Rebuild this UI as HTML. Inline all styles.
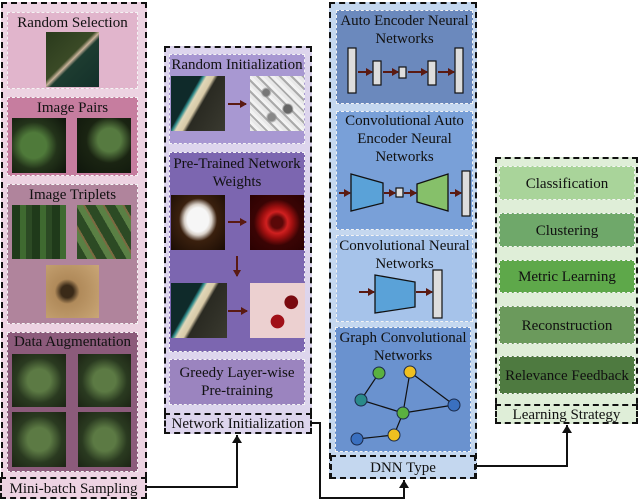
<!DOCTYPE html>
<html><head><meta charset="utf-8"><style>
body{margin:0;width:640px;height:501px;background:#fff;position:relative;overflow:hidden;font-family:"Liberation Serif",serif;}
.a{position:absolute;box-sizing:border-box;}
.o{border:2px dashed #111;}
.p{border:1px dashed #f4f4f4;}
.t{position:absolute;left:-6px;right:-6px;text-align:center;font-size:15px;line-height:18px;color:#111;white-space:nowrap;}
.sat1{background:linear-gradient(135deg,#2a3a1c 0%,#3a4a26 45%,#c9b29a 50%,#1d3c30 55%,#14302a 100%);}
.green{background:radial-gradient(circle at 40% 50%,#4f7a3a 0 30%,#23331a 55%,#0e140b 100%);}
.green2{background:radial-gradient(circle at 60% 40%,#567a40 0 25%,#1a2412 50%,#0f160c 100%);}
.field{background:repeating-linear-gradient(90deg,#1f3a1a 0 8px,#3f6a30 8px 14px,#2c4a24 14px 20px);}
.field2{background:repeating-linear-gradient(60deg,#2c4a24 0 9px,#5a8044 9px 15px,#7a6a40 15px 17px);}
.desert{background:radial-gradient(circle at 40% 50%,#3a2a18 0 15%,#b08a5a 30%,#c9a676 100%);}
.aug{background:radial-gradient(ellipse at 50% 50%,#5c7a44 0 30%,#2a3a20 60%,#1c2414 100%);}
.beach{background:linear-gradient(120deg,#0f2a2a 0 35%,#2c8a8a 38%,#e0d6b8 42%,#d8caa8 50%,#2a2a22 55%,#3a3a30 100%);}
.noise{background:radial-gradient(circle at 30% 30%,#777 0 6%,transparent 10%),radial-gradient(circle at 70% 60%,#666 0 8%,transparent 12%),radial-gradient(circle at 40% 75%,#888 0 7%,transparent 11%),repeating-linear-gradient(45deg,#e8e8e8 0 3px,#aaa 3px 5px,#f2f2f2 5px 8px);}
.dog{background:radial-gradient(ellipse at 50% 45%,#f6f6f6 0 28%,#d8d0c8 36%,#3a200e 50%,#1a0c04 100%);}
.redi{background:radial-gradient(circle at 50% 50%,#5a0808 0 15%,#d02020 28%,#a01010 40%,#3a0404 60%,#2a0202 100%);}
.redw{background:radial-gradient(circle at 75% 35%,#7a0a10 0 12%,transparent 13%),radial-gradient(circle at 50% 70%,#a01018 0 14%,transparent 15%),#ecd0d0;}
</style></head><body>

<div class="a o" style="left:1px;top:2px;width:146px;height:496px;background:#edd3e2"></div>
<div class="a p" style="left:7px;top:12px;width:131px;height:77px;background:#e1b5cc"><div class="t" style="top:1px">Random Selection</div></div>
<div class="a sat1" style="left:46px;top:32px;width:53px;height:55px"></div>
<div class="a p" style="left:7px;top:97px;width:131px;height:79px;background:#c67d9f"><div class="t" style="top:1px">Image Pairs</div></div>
<div class="a green" style="left:12px;top:118px;width:54px;height:55px"></div>
<div class="a green2" style="left:77px;top:118px;width:54px;height:55px"></div>
<div class="a p" style="left:7px;top:184px;width:131px;height:140px;background:#b0849c"><div class="t" style="top:1px">Image Triplets</div></div>
<div class="a field" style="left:12px;top:205px;width:54px;height:54px"></div>
<div class="a field2" style="left:77px;top:205px;width:54px;height:54px"></div>
<div class="a desert" style="left:46px;top:265px;width:53px;height:53px"></div>
<div class="a p" style="left:7px;top:332px;width:131px;height:140px;background:#8c5b7b"><div class="t" style="top:0px">Data Augmentation</div></div>
<div class="a aug" style="left:12px;top:354px;width:54px;height:53px"></div>
<div class="a aug" style="left:78px;top:354px;width:53px;height:53px"></div>
<div class="a aug" style="left:12px;top:412px;width:54px;height:55px"></div>
<div class="a aug" style="left:78px;top:412px;width:53px;height:55px"></div>
<div class="a o" style="left:0;top:477px;width:147px;height:22px;background:#edd3e2"><div class="t" style="top:1px">Mini-batch Sampling</div></div>

<div class="a o" style="left:164px;top:46px;width:148px;height:388px;background:#ddd5ed"></div>
<div class="a p" style="left:169px;top:54px;width:136px;height:90px;background:#a898d2"><div class="t" style="top:1px">Random Initialization</div></div>
<div class="a beach" style="left:171px;top:76px;width:54px;height:55px"></div>
<div class="a noise" style="left:250px;top:76px;width:54px;height:55px"></div>
<div class="a p" style="left:169px;top:152px;width:136px;height:200px;background:#7c66b0"><div class="t" style="top:2px">Pre-Trained Network<br>Weights</div></div>
<div class="a dog" style="left:171px;top:195px;width:54px;height:55px"></div>
<div class="a redi" style="left:250px;top:195px;width:54px;height:55px"></div>
<div class="a beach" style="left:171px;top:283px;width:56px;height:55px"></div>
<div class="a redw" style="left:250px;top:283px;width:55px;height:55px"></div>
<div class="a p" style="left:169px;top:359px;width:136px;height:46px;background:#9b84bf"><div class="t" style="top:4px">Greedy Layer-wise<br>Pre-training</div></div>
<div class="a o" style="left:164px;top:413px;width:148px;height:21px;background:#ddd5ed"><div class="t" style="top:0px">Network Initialization</div></div>

<div class="a o" style="left:329px;top:2px;width:148px;height:477px;background:#c4d7ef"></div>
<div class="a p" style="left:336px;top:10px;width:137px;height:94px;background:#6b89bd"><div class="t" style="top:1px">Auto Encoder Neural<br>Networks</div></div>
<div class="a p" style="left:336px;top:111px;width:137px;height:119px;background:#79a0d8"><div class="t" style="top:0px">Convolutional Auto<br>Encoder Neural<br>Networks</div></div>
<div class="a p" style="left:336px;top:235px;width:137px;height:87px;background:#a6c3ea"><div class="t" style="top:1px">Convolutional Neural<br>Networks</div></div>
<div class="a p" style="left:335px;top:327px;width:136px;height:125px;background:#6a92cf"><div class="t" style="top:1px">Graph Convolutional<br>Networks</div></div>
<div class="a o" style="left:330px;top:455px;width:146px;height:24px;background:#c4d7ef"><div class="t" style="top:2px">DNN Type</div></div>

<div class="a o" style="left:495px;top:157px;width:143px;height:267px;background:#dfeed8"></div>
<div class="a p" style="left:499px;top:166px;width:136px;height:34px;background:#a9d49a"><div class="t" style="top:8px">Classification</div></div>
<div class="a p" style="left:499px;top:213px;width:136px;height:34px;background:#6fa86a"><div class="t" style="top:8px">Clustering</div></div>
<div class="a p" style="left:499px;top:260px;width:136px;height:33px;background:#5ea84a"><div class="t" style="top:7px">Metric Learning</div></div>
<div class="a p" style="left:499px;top:306px;width:136px;height:38px;background:#6b9a5c"><div class="t" style="top:10px">Reconstruction</div></div>
<div class="a p" style="left:499px;top:356px;width:136px;height:38px;background:#4e7a40"><div class="t" style="top:10px">Relevance Feedback</div></div>
<div class="a o" style="left:495px;top:404px;width:143px;height:20px;background:#dfeed8"><div class="t" style="top:0px">Learning Strategy</div></div>

<svg class="a" style="left:0;top:0" width="640" height="501" viewBox="0 0 640 501">
<defs>
<marker id="m" markerWidth="7" markerHeight="8" refX="6" refY="4" orient="auto" markerUnits="userSpaceOnUse"><path d="M0,0L7,4L0,8z" fill="#5a1a12"/></marker>
<marker id="k" markerWidth="8" markerHeight="10" refX="8" refY="5" orient="auto" markerUnits="userSpaceOnUse"><path d="M0,0L8,5L0,10z" fill="#111"/></marker>
</defs>
<g stroke="#5a1a12" stroke-width="2" marker-end="url(#m)" fill="none">
<line x1="228" y1="104" x2="246" y2="104"/>
<line x1="228" y1="222" x2="246" y2="222"/>
<line x1="237" y1="256" x2="237" y2="276"/>
<line x1="228" y1="311" x2="247" y2="311"/>
<line x1="358" y1="72" x2="372" y2="72"/>
<line x1="383" y1="72" x2="398" y2="72"/>
<line x1="408" y1="72" x2="427" y2="72"/>
<line x1="438" y1="72" x2="454" y2="72"/>
<line x1="339" y1="193" x2="350" y2="193"/>
<line x1="384" y1="193" x2="395" y2="193"/>
<line x1="404" y1="193" x2="416" y2="193"/>
<line x1="450" y1="193" x2="461" y2="193"/>
<line x1="359" y1="292" x2="374" y2="292"/>
<line x1="416" y1="292" x2="432" y2="292"/>
</g>
<g fill="#ddd" stroke="#111" stroke-width="1.2">
<rect x="348" y="48" width="8" height="45"/><rect x="373" y="61" width="8" height="24"/><rect x="399" y="67" width="7" height="11"/><rect x="428" y="61" width="8" height="24"/><rect x="455" y="48" width="8" height="45"/>
<rect x="396" y="188" width="7" height="9"/><rect x="462" y="171" width="8" height="45"/>
<rect x="433" y="270" width="9" height="48"/>
</g>
<polygon points="351,174 383,183 383,203 351,211" fill="#5aa2d8" stroke="#111" stroke-width="1.3"/>
<polygon points="417,184 448,174 448,211 417,202" fill="#86c06a" stroke="#111" stroke-width="1.3"/>
<polygon points="375,275 415,282 415,307 375,313" fill="#5aa2d8" stroke="#111" stroke-width="1.3"/>
<g stroke="#111" stroke-width="1.2">
<line x1="379" y1="373" x2="361" y2="400"/><line x1="361" y1="400" x2="403" y2="413"/><line x1="410" y1="372" x2="403" y2="413"/><line x1="410" y1="372" x2="454" y2="405"/><line x1="403" y1="413" x2="454" y2="405"/><line x1="403" y1="413" x2="394" y2="435"/><line x1="394" y1="435" x2="357" y2="439"/>
</g>
<g stroke="#1a2a4a" stroke-width="1">
<circle cx="379" cy="373" r="6" fill="#5ab040"/><circle cx="410" cy="372" r="6" fill="#f0c020"/><circle cx="361" cy="400" r="6" fill="#2a8a8a"/><circle cx="403" cy="413" r="6" fill="#5ab040"/><circle cx="454" cy="405" r="6" fill="#3a70c0"/><circle cx="394" cy="435" r="6" fill="#f0c020"/><circle cx="357" cy="439" r="6" fill="#3a70c0"/>
</g>
<g stroke="#111" stroke-width="2" fill="none" marker-end="url(#k)">
<polyline points="147,487 237,487 237,435"/>
<polyline points="312,423 320,423 320,498 404,498 404,480"/>
<polyline points="476,466 567,466 567,425"/>
</g>
</svg>
</body></html>
